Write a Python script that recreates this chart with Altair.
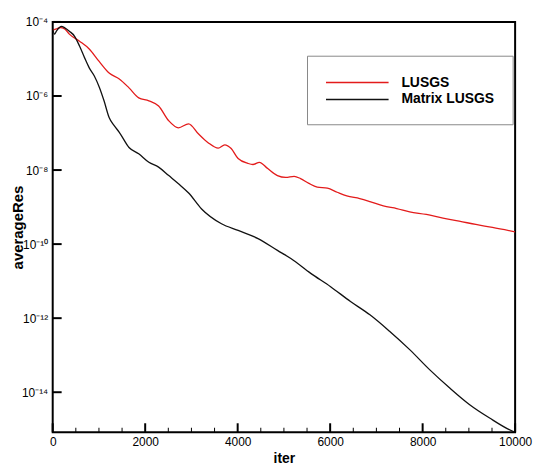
import altair as alt
import pandas as pd

# ---- data (exponents of averageRes) ----
lusgs_iter = [0, 80, 160, 260, 360, 580, 790, 1000, 1220, 1440, 1650, 1860, 2080, 2290,
              2510, 2720, 2940, 3150, 3360, 3580, 3720, 3860, 4010, 4220, 4330, 4470,
              4650, 4860, 5040, 5220, 5360, 5540, 5720, 5940, 6150, 6360, 6640, 6860,
              7150, 7440, 7720, 8080, 8440, 8790, 9150, 9510, 10000]
lusgs_exp = [-4.22, -4.19, -4.15, -4.19, -4.33, -4.52, -4.73, -5.06, -5.38, -5.54, -5.78,
             -6.05, -6.13, -6.27, -6.67, -6.86, -6.75, -7.02, -7.26, -7.41, -7.32, -7.42,
             -7.69, -7.82, -7.85, -7.79, -7.96, -8.15, -8.20, -8.17, -8.23, -8.36, -8.46,
             -8.49, -8.60, -8.70, -8.77, -8.85, -8.97, -9.04, -9.13, -9.20, -9.30, -9.38,
             -9.47, -9.55, -9.67]

matrix_iter = [0, 40, 80, 190, 260, 360, 470, 580, 690, 790, 900, 1010, 1110, 1220, 1330,
               1440, 1650, 1860, 2080, 2290, 2510, 2720, 2940, 3220, 3650, 4010, 4440,
               4860, 5150, 5580, 6010, 6440, 6860, 7290, 7720, 8150, 8580, 9010, 9440,
               9940, 10000]
matrix_exp = [-4.18, -4.33, -4.25, -4.12, -4.16, -4.25, -4.38, -4.65, -4.97, -5.24, -5.46,
              -5.77, -6.13, -6.58, -6.80, -6.98, -7.39, -7.56, -7.79, -7.92, -8.15, -8.37,
              -8.62, -9.05, -9.45, -9.63, -9.85, -10.17, -10.39, -10.79, -11.15, -11.55,
              -11.91, -12.36, -12.85, -13.39, -13.88, -14.33, -14.69, -15.05, -15.08]

series_names = ["LUSGS", "Matrix LUSGS"]
series_colors = ["#e31b1b", "#111111"]

x_major = [0, 2000, 4000, 6000, 8000, 10000]
x_minor = [500, 1000, 1500, 2500, 3000, 3500, 4500, 5000, 5500,
           6500, 7000, 7500, 8500, 9000, 9500]
y_tick_exp = [-4, -6, -8, -10, -12, -14]
y_tick_labels = ["10⁻⁴", "10⁻⁶", "10⁻⁸", "10⁻¹⁰", "10⁻¹²", "10⁻¹⁴"]
y_min_exp = -15.08

# ---- tables ----
df = pd.DataFrame({
    "iter": lusgs_iter + matrix_iter,
    "res": [10.0 ** e for e in lusgs_exp + matrix_exp],
    "series": [series_names[0]] * len(lusgs_iter) + [series_names[1]] * len(matrix_iter),
})
y_values = [10.0 ** e for e in y_tick_exp]
major_x_df = pd.DataFrame({"xmaj": x_major})
minor_x_df = pd.DataFrame({"xmin": x_minor})
y_tick_df = pd.DataFrame({"ytick": y_values})

W, H = 465.5, 413
FONT = "Liberation Sans"
TICK = 9

xs = alt.Scale(domain=[0, 10000], nice=False, zero=False)
ys = alt.Scale(type="log", domain=[10.0 ** y_min_exp, 1e-4], nice=False)

label_expr = "''"
for e, lab in reversed(list(zip(y_tick_exp, y_tick_labels))):
    label_expr = f"round(log(datum.value)/LN10) == {e} ? '{lab}' : ({label_expr})"

x_axis = alt.Axis(
    orient="bottom", values=x_major, format="d", domain=False, grid=False, ticks=False,
    labelFont=FONT, labelFontSize=12, labelColor="black", labelPadding=4, labelFlush=False,
    title="iter", titleFont=FONT, titleFontSize=14, titleFontWeight="bold", titleColor="black",
    titleX=W / 2, titleY=26, titleBaseline="middle")
y_axis = alt.Axis(
    orient="left", values=y_values, labelExpr=label_expr, domain=False, grid=False, ticks=False,
    labelFont=FONT, labelFontSize=12, labelColor="black", labelPadding=5,
    title="averageRes", titleFont=FONT, titleFontSize=15, titleFontWeight="bold",
    titleColor="black", titleAngle=270, titleX=-35, titleY=H / 2,
    titleBaseline="middle", titleAlign="center")

# inward tick marks placed through the same scales
major_x_ticks = alt.Chart(major_x_df).mark_tick(
    color="black", orient="vertical", size=TICK, thickness=2, opacity=1
).encode(
    x=alt.X("xmaj:Q", scale=xs, axis=None),
    y=alt.value(H - TICK / 2),
)
minor_x_ticks = alt.Chart(minor_x_df).mark_tick(
    color="black", orient="vertical", size=4.5, thickness=1, opacity=1
).encode(
    x=alt.X("xmin:Q", scale=xs, axis=None),
    y=alt.value(H - 2.25),
)
y_ticks = alt.Chart(y_tick_df).mark_tick(
    color="black", orient="horizontal", size=TICK, thickness=2, opacity=1
).encode(
    y=alt.Y("ytick:Q", scale=ys, axis=None),
    x=alt.value(TICK / 2),
)

lines = alt.Chart(df).mark_line(strokeWidth=1.3, interpolate="monotone", clip=True).encode(
    x=alt.X("iter:Q", scale=xs, axis=x_axis),
    y=alt.Y("res:Q", scale=ys, axis=y_axis),
    color=alt.Color("series:N", scale=alt.Scale(domain=series_names, range=series_colors),
                    legend=alt.Legend(orient="none", legendX=256, legendY=34, title=None,
                                      symbolType="M-1,0H7", symbolSize=248, symbolStrokeWidth=1.5,
                                      labelFont=FONT, labelFontSize=14, labelFontWeight="bold",
                                      labelColor="black", labelOffset=59, rowPadding=1,
                                      padding=18, strokeColor="#888888", fillColor="white")),
)

chart = alt.layer(lines, major_x_ticks, minor_x_ticks, y_ticks).resolve_axis(
    x="independent", y="independent"
).properties(
    width=W, height=H,
    autosize=alt.AutoSizeParams(type="none"),
    padding={"left": 45, "top": 12.5, "right": 18, "bottom": 36},
).configure_view(stroke="black", strokeWidth=2)

chart.save("out.html", embed_options={"renderer": "svg", "actions": False})
